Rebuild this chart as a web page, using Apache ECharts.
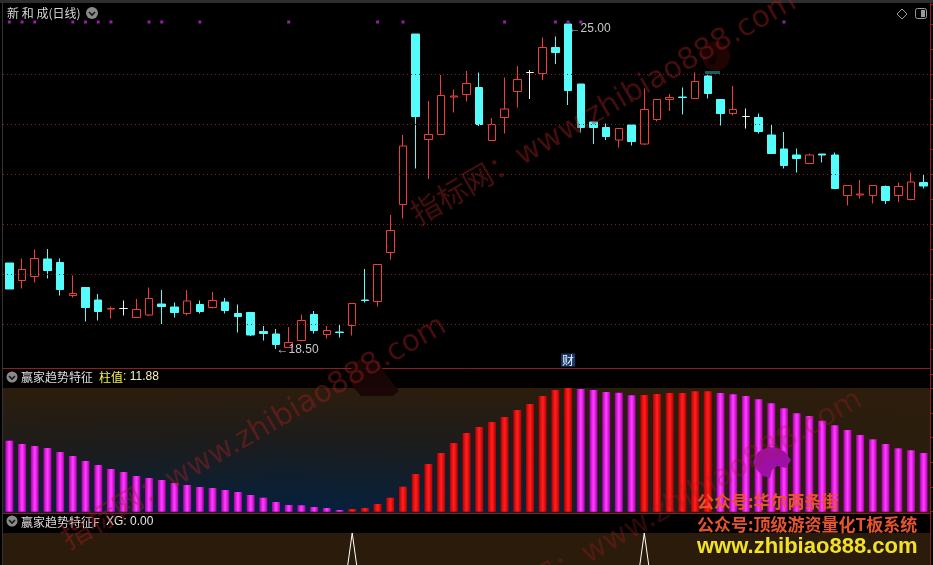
<!DOCTYPE html>
<html>
<head>
<meta charset="utf-8">
<title>新和成(日线)</title>
<script src="https://cdn.jsdelivr.net/npm/echarts@6.0.0/dist/echarts.min.js"></script>
<style>
html,body{margin:0;padding:0;background:#000;overflow:hidden;}
#chart{width:933px;height:565px;}
</style>
</head>
<body>
<div id="chart"></div>
<script>
// ---------------- data ----------------
const opens  = [20.22,19.87,19.95,20.30,20.23,19.57,19.73,19.48,19.30,19.31,19.13,19.18,19.40,19.34,19.21,19.39,19.33,19.44,19.21,19.23,
                18.85,18.80,18.53,18.67,19.19,18.79,18.84,18.97,19.48,19.45,20.43,21.39,24.80,22.69,22.79,23.54,23.59,23.73,22.67,23.13,
                23.65,24.03,24.01,24.53,25.00,23.80,23.04,22.93,22.68,22.98,22.60,23.09,23.49,23.54,23.51,23.96,23.49,23.21,23.15,23.13,
                22.78,22.50,22.38,22.21,22.40,22.38,21.57,21.58,21.57,21.75,21.57,21.49,21.83];
const highs  = [20.22,20.31,20.49,20.50,20.31,19.97,19.74,19.60,19.35,19.47,19.50,19.73,19.68,19.43,19.68,19.47,19.64,19.52,19.39,19.24,
                18.96,18.90,18.94,19.19,19.26,18.96,18.99,19.41,20.10,20.19,21.18,22.78,24.80,23.46,23.98,23.69,24.06,24.03,23.12,23.93,
                24.16,24.08,24.73,24.75,25.00,23.80,23.04,23.01,22.91,23.00,23.71,23.49,23.60,23.73,24.03,24.00,23.49,23.76,23.31,23.21,
                22.99,22.84,22.51,22.41,22.40,22.43,21.77,21.88,21.77,21.77,21.83,22.03,21.98];
const lows   = [19.70,19.71,19.83,19.91,19.57,19.53,19.05,19.07,19.11,19.17,19.13,19.16,19.00,19.13,19.17,19.21,19.31,19.21,18.83,18.76,
                18.67,18.50,18.52,18.67,18.81,18.71,18.73,18.77,19.43,19.35,20.29,21.11,22.11,21.90,22.79,23.23,23.45,22.96,22.67,22.81,
                23.33,23.50,23.88,24.20,23.38,22.83,22.60,22.68,22.53,22.57,22.58,23.05,23.26,23.19,23.51,23.51,22.97,23.17,22.91,22.81,
                22.41,22.11,22.03,22.21,22.23,21.71,21.37,21.51,21.41,21.40,21.44,21.47,21.71];
const closes = [19.70,20.09,20.31,20.07,19.69,19.61,19.33,19.25,19.31,19.31,19.29,19.51,19.35,19.23,19.46,19.25,19.47,19.27,19.15,18.78,
                18.81,18.59,18.63,19.07,18.87,18.87,18.83,19.41,19.47,20.19,20.87,22.56,23.15,22.79,23.57,23.56,23.81,22.99,22.99,23.30,
                23.89,24.03,24.53,24.43,23.67,22.93,22.93,22.75,22.91,22.65,23.29,23.49,23.53,23.53,23.85,23.61,23.21,23.29,23.15,22.85,
                22.41,22.17,22.31,22.38,22.38,21.71,21.77,21.60,21.77,21.47,21.75,21.84,21.76];
// days carrying the purple signal dot above the price chart
const signalDays = [0,1,2,5,6,7,8,11,12,15,22,29,31,39,43,44,45,61];
const signalLevel = 25.04;
// 赢家趋势特征 column values
const trendValues = [14.37,13.70,13.30,12.89,12.08,11.27,10.26,9.45,8.64,8.04,7.23,6.82,6.42,5.81,5.40,5.00,4.80,4.39,3.99,3.38,
                     2.83,1.96,1.36,1.30,0.95,0.75,0.34,0.55,0.75,1.56,2.83,5.06,7.63,9.65,11.88,13.90,15.93,17.14,18.16,19.17,
                     20.58,21.80,23.42,24.63,25.04,24.83,24.63,24.23,24.09,23.55,23.62,23.82,24.02,24.05,24.37,24.40,24.02,23.76,23.42,22.75,
                     21.94,20.93,19.92,19.37,18.42,17.49,16.54,15.52,14.65,13.70,12.83,12.43,11.88];
// 赢家趋势特征F XG
const xgValues = [0,0,0,0,0,0,0,0,0,0, 0,0,0,0,0,0,0,0,0,0, 0,0,0,0,0,0,0,1,0,0,
                  0,0,0,0,0,0,0,0,0,0, 0,0,0,0,0,0,0,0,0,0, 1,0,0,0,0,0,0,0,0,0,
                  0,0,0,0,0,0,0,0,0,0, 0,0,0];
const priceGridLevels = [19,20,21,22,23,24];
const finDay = 44;
const finLevel = 18.28;
const stockTitle = '新 和 成(日线)';
const indName = '赢家趋势特征';
const indName2 = '赢家趋势特征F';
const watermarkText = '指标网：www.zhibiao888.com';
const promo1 = '公众号:华尔两条街';
const promo2 = '公众号:顶级游资量化T板系统';
const promo3 = 'www.zhibiao888.com';

// ---------------- build ----------------
const N = opens.length;
const cats = opens.map((_, i) => i);
const C_UP = '#f23c3c', C_DOWN = '#54fcfc', C_FLAT = '#f4f4f4';
const C_AXIS = '#8e1e1e', C_GRID = '#702626';
const CJK = '"Noto Sans CJK SC","Noto Sans",sans-serif';
const NUM = '"Liberation Sans",Arial,sans-serif';

const candleData = cats.map(i => {
  const item = { value: [opens[i], closes[i], lows[i], highs[i]] };
  if (opens[i] === closes[i]) {
    item.itemStyle = { color: C_FLAT, color0: C_FLAT, borderColor: C_FLAT, borderColor0: C_FLAT, borderColorDoji: C_FLAT };
  }
  return item;
});

let hiIdx = 0, loIdx = 0;
cats.forEach(i => { if (highs[i] > highs[hiIdx]) hiIdx = i; if (lows[i] < lows[loIdx]) loIdx = i; });

const magGrad = {type:'linear',x:0,y:0,x2:1,y2:0,colorStops:[
  {offset:0,color:'#a400a8'},{offset:0.45,color:'#ff38ff'},{offset:0.55,color:'#ff38ff'},{offset:1,color:'#a400a8'}]};
const redGrad = {type:'linear',x:0,y:0,x2:1,y2:0,colorStops:[
  {offset:0,color:'#b00000'},{offset:0.45,color:'#ff1c1c'},{offset:0.55,color:'#ff1c1c'},{offset:1,color:'#b00000'}]};
const barData = trendValues.map((v, i) => ({
  value: v, itemStyle: { color: (i > 0 && v > trendValues[i - 1]) ? redGrad : magGrad }
}));
const maxTrend = Math.max(...trendValues);

function chevron(cx, cy, r) {
  return [
    { type:'circle', z:20, shape:{cx:cx, cy:cy, r:r}, style:{fill:'#8a8a8a'} },
    { type:'polyline', z:21, shape:{points:[[cx-3,cy-1],[cx,cy+2],[cx+3,cy-1]]}, style:{stroke:'#151515', lineWidth:1.6, fill:null} }
  ];
}
function txt(x, y, text, color, size, family, extra) {
  return { type:'text', z:30, x:x, y:y,
    style: { text:text, fill:color, font: (extra && extra.weight ? extra.weight + ' ' : '') + size + 'px ' + family,
             textAlign:'left', textVerticalAlign:'middle', align:'left', verticalAlign:'middle' } };
}
function wm(x, y, alpha) {
  return { type:'text', z:40, x:x, y:y, rotation: Math.PI / 6,
    style: { text: watermarkText, fill:'rgba(165,30,30,' + alpha + ')', font:'30px "DejaVu Sans","Noto Sans CJK SC",sans-serif',
             textAlign:'left', textVerticalAlign:'bottom', align:'left', verticalAlign:'bottom' } };
}

const graphics = [
  // backgrounds of indicator panels
  { type:'rect', z:-10, shape:{x:3,y:388,width:927,height:125}, style:{fill:{type:'linear',x:0,y:0,x2:0,y2:1,colorStops:[
      {offset:0,color:'#2c1d0c'},{offset:0.45,color:'#1a1c1e'},{offset:1,color:'#03213f'}]}} },
  { type:'rect', z:-9, shape:{x:3,y:388,width:927,height:125}, style:{fill:{type:'linear',x:0,y:0,x2:1,y2:0,colorStops:[
      {offset:0,color:'rgba(44,29,12,0.25)'},{offset:0.3,color:'rgba(44,29,12,0)'},{offset:0.55,color:'rgba(44,29,12,0.15)'},
      {offset:0.78,color:'rgba(44,29,12,0.85)'},{offset:1,color:'rgba(44,29,12,0.95)'}]}} },
  { type:'rect', z:-10, shape:{x:3,y:533,width:927,height:32}, style:{fill:'#2b1b0b'} },
  // frame
  { type:'rect', z:5, shape:{x:0,y:0,width:933,height:3}, style:{fill:'#2e2e2e'} },
  { type:'line', z:5, shape:{x1:2.5,y1:3,x2:2.5,y2:565}, style:{stroke:'#343434', lineWidth:1} },
  { type:'line', z:5, shape:{x1:3,y1:368.5,x2:930,y2:368.5}, style:{stroke:C_AXIS, lineWidth:1} },
  { type:'line', z:5, shape:{x1:3,y1:513.5,x2:930,y2:513.5}, style:{stroke:C_AXIS, lineWidth:1} },
  { type:'line', z:5, shape:{x1:930.5,y1:3,x2:930.5,y2:565}, style:{stroke:C_AXIS, lineWidth:1} },
  // logo blobs of the watermark
  { type:'polygon', z:35, shape:{points:[[350,371],[355,362],[362,359],[368,363],[373,360],[379,362],[383,370],[399,391],[393,396],[361,396],[352,386]]},
    style:{fill:'rgba(26,5,5,0.92)'} },
  { type:'ellipse', z:35, shape:{cx:716,cy:56,rx:14,ry:15}, style:{fill:'rgba(58,8,8,0.55)'} },
  { type:'ellipse', z:36, shape:{cx:712,cy:56,rx:5,ry:9}, style:{fill:'rgba(10,0,0,0.7)'} },
  { type:'rect', z:36, shape:{x:705,y:71,width:15,height:3}, style:{fill:'#1d5c5a'} },
  { type:'polygon', z:35, shape:{points:[[753,462],[758,452],[768,447],[778,448],[785,452],[791,460],[786,468],[777,466],[772,470],[770,478],[763,476],[757,470]]},
    style:{fill:'#9e10a4'} },
  // top-right icons
  { type:'polygon', z:20, shape:{points:[[902,9],[907,14],[902,19],[897,14]]}, style:{stroke:'#9a9a9a', fill:null, lineWidth:1} },
  { type:'rect', z:20, shape:{x:915.5,y:8.5,width:11,height:10,r:2}, style:{stroke:'#9a9a9a', fill:null, lineWidth:1} },
  { type:'rect', z:20, shape:{x:921,y:10,width:4,height:7}, style:{fill:'#9a9a9a'} },
  // titles
  txt(7, 13, stockTitle, '#d6d6d6', 12, CJK),
  ...chevron(92, 13, 6),
  ...chevron(12, 377, 5.5),
  txt(21, 377, indName, '#dedede', 12, CJK),
  txt(99, 377, '柱值', '#f6f24a', 12, CJK),
  txt(123, 377, ': ' + trendValues[N - 1].toFixed(2), '#f4f0b8', 12, NUM),
  ...chevron(12, 521, 5.5),
  txt(21, 522, indName2, '#dedede', 12, CJK),
  txt(106, 522, 'XG: ' + xgValues[N - 1].toFixed(2), '#e8e8e8', 12, NUM),
  // watermarks
  wm(422, 232, 0.42), wm(72, 556, 0.42), wm(488, 630, 0.3),
  // promo overlay
  txt(697, 502, promo1, '#e8532e', 17, CJK, {weight:'bold'}),
  txt(697, 525, promo2, '#e8532e', 17, CJK, {weight:'bold'}),
  txt(697, 547, promo3, '#f2e226', 22, NUM, {weight:'bold'})
];

const option = {
  backgroundColor: '#000000',
  animation: false,
  grid: [
    { left:3, top:4, width:927, height:370 },
    { left:3, top:388, width:927, height:123.7 },
    { left:3, top:533, width:927, height:32 }
  ],
  xAxis: [0, 1, 2].map(g => ({ type:'category', gridIndex:g, data:cats, show:false, boundaryGap:true })),
  yAxis: [
    { type:'value', gridIndex:0, position:'right', min:18, max:25.4, interval:0.5,
      axisLine:{show:true, lineStyle:{color:C_AXIS}}, axisTick:{show:true, length:3, lineStyle:{color:C_AXIS}},
      axisLabel:{show:false}, splitLine:{show:false} },
    { type:'value', gridIndex:1, position:'right', min:0, max:maxTrend, interval:5,
      axisLine:{show:true, lineStyle:{color:C_AXIS}}, axisTick:{show:true, length:3, lineStyle:{color:C_AXIS}},
      axisLabel:{show:false}, splitLine:{show:false} },
    // the XG pane continues below the window: only its upper third (0.65..1) is visible
    { type:'value', gridIndex:2, min:0.65, max:1, show:false, splitLine:{show:false} }
  ],
  graphic: { elements: graphics },
  series: [
    {
      type:'candlestick', xAxisIndex:0, yAxisIndex:0, data:candleData, barWidth:8,
      itemStyle:{ color:'transparent', color0:C_DOWN, borderColor:C_UP, borderColor0:C_DOWN, borderWidth:1 },
      markLine:{ silent:true, symbol:['none','none'], label:{show:false},
        lineStyle:{ type:[1,3], color:C_GRID, width:1 },
        data: priceGridLevels.map(v => ({ yAxis:v })) },
      markPoint:{ silent:true, symbol:'rect', symbolSize:1, itemStyle:{color:'transparent'},
        data:[
          { coord:[hiIdx, highs[hiIdx]], label:{ show:true, position:'right', distance:0, offset:[0,5],
              formatter:'←' + highs[hiIdx].toFixed(2), color:'#c8c8c8', fontSize:12, fontFamily:NUM } },
          { coord:[loIdx, lows[loIdx]], label:{ show:true, position:'right', distance:0, offset:[0,1],
              formatter:'←' + lows[loIdx].toFixed(2), color:'#c8c8c8', fontSize:12, fontFamily:NUM } },
          { coord:[finDay, finLevel], label:{ show:true, position:'inside', formatter:'财', color:'#e6f2ff',
              fontSize:12, fontFamily:CJK, backgroundColor:'#183a6a', padding:[1,1,0,1] } }
        ] }
    },
    {
      type:'scatter', xAxisIndex:0, yAxisIndex:0, symbol:'rect', symbolSize:3, silent:true,
      itemStyle:{ color:'#b62cc6' },
      data: signalDays.map(d => [d, signalLevel])
    },
    {
      type:'bar', xAxisIndex:1, yAxisIndex:1, barWidth:8, data:barData, silent:true
    },
    {
      type:'line', xAxisIndex:2, yAxisIndex:2, data:xgValues, symbol:'none', silent:true,
      lineStyle:{ color:'#ffffff', width:1 }
    }
  ]
};

const chart = echarts.init(document.getElementById('chart'), null, { renderer:'canvas', width:933, height:565 });
chart.setOption(option);
</script>
</body>
</html>
